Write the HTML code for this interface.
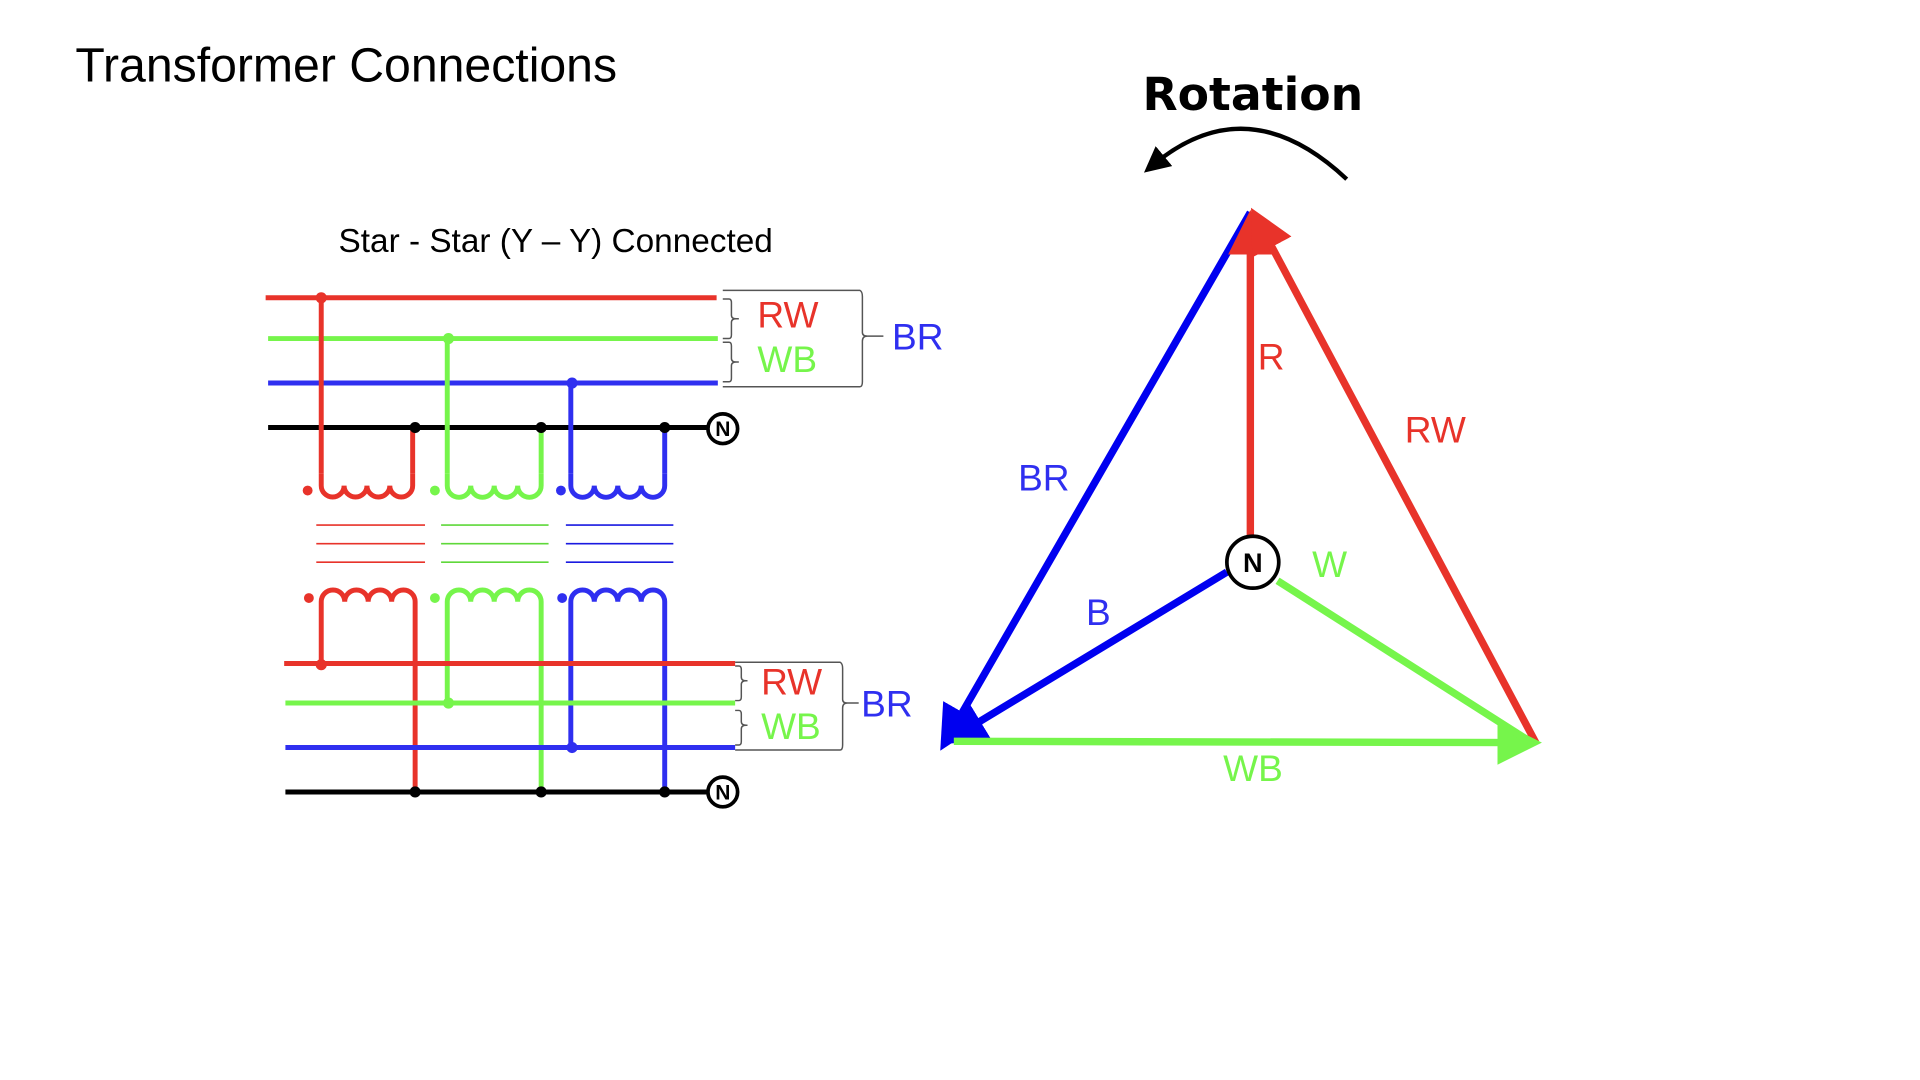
<!DOCTYPE html>
<html><head><meta charset="utf-8"><style>html,body{margin:0;padding:0;background:#fff;width:1920px;height:1080px;overflow:hidden}svg{display:block}</style></head>
<body>
<svg width="1920" height="1080" viewBox="0 0 1554 874.1" xmlns="http://www.w3.org/2000/svg" font-family="Liberation Sans, sans-serif">
<defs>
<marker id="ab" markerWidth="6" markerHeight="6" refX="3" refY="3" orient="auto" markerUnits="strokeWidth"><path d="M0,0 L6,3 L0,6 z" fill="#0000f0"/></marker>
<marker id="ar" markerWidth="6" markerHeight="6" refX="3" refY="3" orient="auto" markerUnits="strokeWidth"><path d="M0,0 L6,3 L0,6 z" fill="#e8332a"/></marker>
<marker id="ag" markerWidth="6" markerHeight="6" refX="3" refY="3" orient="auto" markerUnits="strokeWidth"><path d="M0,0 L6,3 L0,6 z" fill="#76f54b"/></marker>
<marker id="ak" markerWidth="6" markerHeight="6" refX="3" refY="3" orient="auto" markerUnits="strokeWidth"><path d="M0,0 L6,3 L0,6 z" fill="#000"/></marker>
</defs>
<text x="61" y="66" font-size="39" fill="#000">Transformer Connections</text>
<text x="274" y="204" font-size="27" fill="#000">Star - Star (Y – Y) Connected</text>
<text x="1014" y="89" font-size="37" font-weight="bold" text-anchor="middle" fill="#000" font-family="DejaVu Sans, sans-serif">Rotation</text>
<path d="M1090,145 Q1010,70 934,133" fill="none" stroke="#000" stroke-width="3.5" marker-end="url(#ak)"/>

<g fill="none" stroke-width="4">
<!-- top feeders -->
<line x1="215" y1="241" x2="580" y2="241" stroke="#e8332a"/>
<line x1="217" y1="274" x2="581" y2="274" stroke="#76f54b"/>
<line x1="217" y1="310" x2="581" y2="310" stroke="#2f2ff0"/>
<line x1="217" y1="346" x2="572" y2="346" stroke="#000"/>
<!-- top verticals -->
<path d="M260,241 V383 M334,346 V383" stroke="#e8332a"/>
<path d="M362,274 V383 M438,346 V383" stroke="#76f54b"/>
<path d="M462,310 V383 M538,346 V383" stroke="#2f2ff0"/>
<!-- primary coils -->
<path d="M260,383 v10 a9.25,9.25 0 0 0 18.5,0 a9.25,9.25 0 0 0 18.5,0 a9.25,9.25 0 0 0 18.5,0 a9.25,9.25 0 0 0 18.5,0 v-10" stroke="#e8332a"/>
<path d="M362,383 v10 a9.5,9.5 0 0 0 19,0 a9.5,9.5 0 0 0 19,0 a9.5,9.5 0 0 0 19,0 a9.5,9.5 0 0 0 19,0 v-10" stroke="#76f54b"/>
<path d="M462,383 v10 a9.5,9.5 0 0 0 19,0 a9.5,9.5 0 0 0 19,0 a9.5,9.5 0 0 0 19,0 a9.5,9.5 0 0 0 19,0 v-10" stroke="#2f2ff0"/>
<!-- secondary coils -->
<path d="M260,537 V490 v-3 a9.5,9.5 0 0 1 19,0 a9.5,9.5 0 0 1 19,0 a9.5,9.5 0 0 1 19,0 a9.5,9.5 0 0 1 19,0 V641" stroke="#e8332a"/>
<path d="M362,569 V490 v-3 a9.5,9.5 0 0 1 19,0 a9.5,9.5 0 0 1 19,0 a9.5,9.5 0 0 1 19,0 a9.5,9.5 0 0 1 19,0 V641" stroke="#76f54b"/>
<path d="M462,605 V490 v-3 a9.5,9.5 0 0 1 19,0 a9.5,9.5 0 0 1 19,0 a9.5,9.5 0 0 1 19,0 a9.5,9.5 0 0 1 19,0 V641" stroke="#2f2ff0"/>
<!-- bottom feeders -->
<line x1="230" y1="537" x2="595" y2="537" stroke="#e8332a"/>
<line x1="231" y1="569" x2="595" y2="569" stroke="#76f54b"/>
<line x1="231" y1="605" x2="595" y2="605" stroke="#2f2ff0"/>
<line x1="231" y1="641" x2="572" y2="641" stroke="#000"/>
</g>
<!-- cores -->
<g stroke-width="1.3">
<path d="M256,425H344M256,440H344M256,455H344" stroke="#e8332a"/>
<path d="M357,425H444M357,440H444M357,455H444" stroke="#5fd83a"/>
<path d="M458,425H545M458,440H545M458,455H545" stroke="#1a1ae0"/>
</g>
<!-- dots -->
<g>
<circle cx="260" cy="241" r="4.5" fill="#e8332a"/><circle cx="363" cy="274" r="4.5" fill="#76f54b"/><circle cx="463" cy="310" r="4.5" fill="#2f2ff0"/>
<circle cx="336" cy="346" r="4.5" fill="#000"/><circle cx="438" cy="346" r="4.5" fill="#000"/><circle cx="538" cy="346" r="4.5" fill="#000"/>
<circle cx="249" cy="397" r="4" fill="#e8332a"/><circle cx="352" cy="397" r="4" fill="#76f54b"/><circle cx="454" cy="397" r="4" fill="#2f2ff0"/>
<circle cx="250" cy="484" r="4" fill="#e8332a"/><circle cx="352" cy="484" r="4" fill="#76f54b"/><circle cx="455" cy="484" r="4" fill="#2f2ff0"/>
<circle cx="260" cy="538" r="4.5" fill="#e8332a"/><circle cx="363" cy="569" r="4.5" fill="#76f54b"/><circle cx="463" cy="605" r="4.5" fill="#2f2ff0"/>
<circle cx="336" cy="641" r="4.5" fill="#000"/><circle cx="438" cy="641" r="4.5" fill="#000"/><circle cx="538" cy="641" r="4.5" fill="#000"/>
</g>
<g fill="#fff" stroke="#000" stroke-width="3">
<circle cx="585" cy="347" r="12"/><circle cx="585" cy="641" r="12"/>
</g>
<g font-size="17" font-weight="bold" text-anchor="middle"><text x="585" y="353">N</text><text x="585" y="647">N</text></g>
<!-- brackets -->
<g fill="none" stroke="#555" stroke-width="1.2">
<path d="M585,235 H696 Q698,236 698,240 V269 Q698,272 702,272 H715 M702,272 Q698,272 698,276 V309 Q698,313 696,313 H585"/>
<path d="M585,242 h5 q2,0 2,3 v10 q0,3 4,3 h2 M596,258 q-4,0 -4,3 v10 q0,3 -2,3 h-5"/>
<path d="M585,277 h5 q2,0 2,3 v10 q0,3 4,3 h2 M596,293 q-4,0 -4,3 v10 q0,3 -2,3 h-5"/>
<path d="M595,536 H680 Q682,537 682,541 V566 Q682,569 686,569 H695 M686,569 Q682,569 682,573 V603 Q682,607 680,607 H595"/>
<path d="M595,539 h3 q2,0 2,3 v6 q0,3 4,3 h1 M604,551 q-4,0 -4,3 v10 q0,3 -2,3 h-3"/>
<path d="M595,575 h3 q2,0 2,3 v6 q0,3 4,3 h1 M604,587 q-4,0 -4,3 v10 q0,3 -2,3 h-3"/>
</g>
<g font-size="30">
<text x="613" y="265" fill="#e8332a">RW</text><text x="613" y="301" fill="#76f54b">WB</text><text x="722" y="283" fill="#2f2ff0">BR</text>
<text x="616" y="562" fill="#e8332a">RW</text><text x="616" y="598" fill="#76f54b">WB</text><text x="697" y="580" fill="#2f2ff0">BR</text>
</g>
<!-- phasor triangle -->
<g fill="none" stroke-width="6">
<line x1="1012" y1="172" x2="770" y2="592" stroke="#0000f0" marker-end="url(#ab)"/>
<line x1="993" y1="463" x2="778" y2="593" stroke="#0000f0" marker-end="url(#ab)"/>
<line x1="1012" y1="433" x2="1012" y2="188" stroke="#e8332a" marker-end="url(#ar)"/>
<line x1="1243" y1="601" x2="1021" y2="184" stroke="#e8332a" marker-end="url(#ar)"/>
<line x1="772" y1="600" x2="1230" y2="601" stroke="#76f54b" marker-end="url(#ag)"/>
<line x1="1034" y1="470" x2="1235" y2="598" stroke="#76f54b"/>
</g>
<circle cx="1014" cy="455" r="21" fill="#fff" stroke="#000" stroke-width="3"/>
<text x="1014" y="463" font-size="22" font-weight="bold" text-anchor="middle">N</text>
<g font-size="30">
<text x="1018" y="299" fill="#e8332a">R</text>
<text x="1137" y="358" fill="#e8332a">RW</text>
<text x="824" y="397" fill="#2f2ff0">BR</text>
<text x="1062" y="467" fill="#76f54b">W</text>
<text x="879" y="506" fill="#2f2ff0">B</text>
<text x="990" y="632" fill="#76f54b">WB</text>
</g>
</svg>
</body></html>
